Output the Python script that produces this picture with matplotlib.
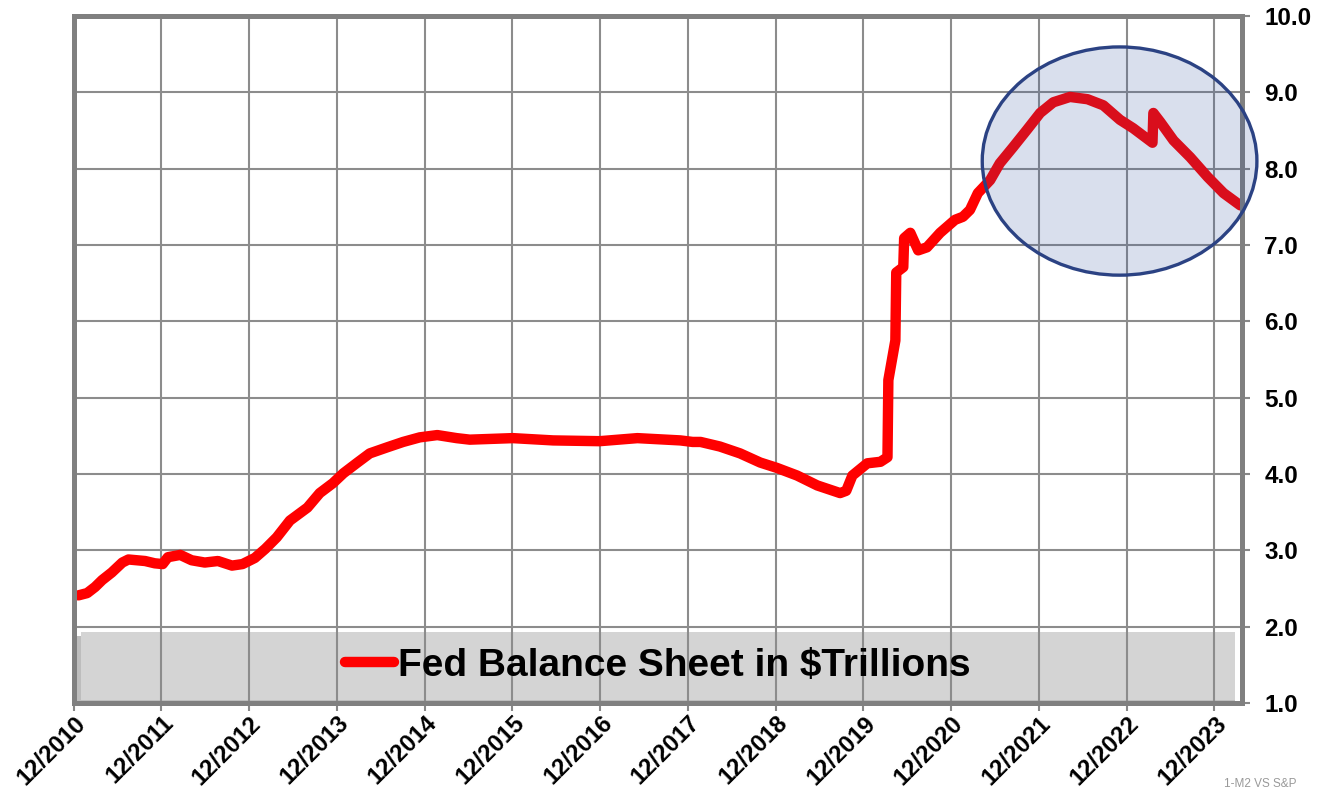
import matplotlib
matplotlib.use("Agg")
import matplotlib.pyplot as plt
import matplotlib.transforms as mtransforms
from matplotlib.patches import Ellipse, Rectangle

plt.rcParams['font.family'] = ['Liberation Sans', 'DejaVu Sans']

# Fed balance sheet, $ trillions, x in decimal years
years = [2010.97, 2011.07, 2011.16, 2011.24, 2011.35, 2011.47, 2011.54, 2011.73,
         2011.84, 2011.93, 2011.99, 2012.13, 2012.26, 2012.41, 2012.56, 2012.72,
         2012.84, 2012.98, 2013.10, 2013.23, 2013.38, 2013.58, 2013.72, 2013.87,
         2013.99, 2014.15, 2014.29, 2014.49, 2014.67, 2014.86, 2015.06, 2015.28,
         2015.43, 2015.92, 2016.38, 2016.91, 2017.34, 2017.83, 2017.97, 2018.06,
         2018.28, 2018.51, 2018.74, 2018.93, 2019.16, 2019.39, 2019.65, 2019.72,
         2019.79, 2019.96, 2020.11, 2020.19, 2020.20, 2020.28, 2020.29, 2020.37,
         2020.38, 2020.45, 2020.54, 2020.64, 2020.79, 2020.96, 2021.05, 2021.13,
         2021.22, 2021.36, 2021.47, 2021.62, 2021.78, 2021.93, 2022.08, 2022.27,
         2022.47, 2022.65, 2022.84, 2022.99, 2023.21, 2023.22, 2023.30, 2023.45,
         2023.64, 2023.84, 2024.02, 2024.21]
balance = [2.41, 2.44, 2.52, 2.61, 2.71, 2.84, 2.88, 2.86,
           2.83, 2.82, 2.91, 2.94, 2.87, 2.84, 2.86, 2.80,
           2.82, 2.90, 3.02, 3.17, 3.39, 3.56, 3.75, 3.88,
           4.01, 4.15, 4.27, 4.35, 4.42, 4.48, 4.51, 4.47,
           4.45, 4.47, 4.44, 4.43, 4.47, 4.44, 4.42, 4.42,
           4.36, 4.27, 4.15, 4.08, 3.98, 3.85, 3.75, 3.78,
           3.98, 4.14, 4.16, 4.22, 5.23, 5.75, 6.64, 6.71,
           7.09, 7.16, 6.93, 6.97, 7.16, 7.33, 7.37, 7.46,
           7.68, 7.85, 8.07, 8.28, 8.51, 8.73, 8.87, 8.94,
           8.91, 8.83, 8.64, 8.53, 8.34, 8.73, 8.61, 8.37,
           8.15, 7.89, 7.68, 7.52]

tick_years = list(range(2010, 2024))
tick_labels = ['12/%d' % y for y in tick_years]
y_ticks = [1, 2, 3, 4, 5, 6, 7, 8, 9, 10]

fig = plt.figure(figsize=(13.24, 7.93), dpi=100)
ax = fig.add_axes([0.0557, 0.1135, 0.8824, 0.8663])

x0 = 2010 + 11 / 12
xticks = [x0 + i for i in range(len(tick_years))]
ax.set_xlim(x0, x0 + 13.314)
ax.set_ylim(1, 10)

# legend band
shadow = Rectangle((0.003, 0.0), 0.991, 0.098, transform=ax.transAxes,
                   facecolor='#bdbdbd', edgecolor='none', zorder=0.1)
band = Rectangle((0.006, 0.005), 0.988, 0.098, transform=ax.transAxes,
                 facecolor='#d4d4d4', edgecolor='none', zorder=0.2)
ax.add_patch(shadow)
ax.add_patch(band)

# grid on top of the band, under the line
ax.vlines(xticks, 1, 10, colors='#8c8c8c', lw=1.5, zorder=2.1)
ax.hlines(y_ticks, x0, x0 + 13.314, colors='#8c8c8c', lw=1.5, zorder=2.1)

line, = ax.plot(years, balance, color='#ff0000', lw=7.5,
                solid_joinstyle='round', solid_capstyle='round', zorder=2.2,
                label='Fed Balance Sheet in $Trillions')

ell = Ellipse((2022.835, 8.1), 3.13, 2.99, facecolor=(0.18, 0.31, 0.62, 0.18),
              edgecolor='#2b4283', lw=2.4, zorder=3, clip_on=False)
ax.add_patch(ell)

# x labels as plain texts under each tick
ax.set_xticks(xticks)
ax.set_xticklabels([])
trans = mtransforms.blended_transform_factory(ax.transData, ax.transAxes)
trans = trans + mtransforms.ScaledTranslation(6 / 72, -12 / 72, fig.dpi_scale_trans)
for xv, lab in zip(xticks, tick_labels):
    ax.text(xv, 0, lab, transform=trans, rotation=45, ha='right', va='center',
            rotation_mode='anchor', fontsize=17.2, fontweight='bold', clip_on=False)

ax.yaxis.tick_right()
ax.set_yticks(y_ticks)
ax.set_yticklabels(['%.1f' % v for v in y_ticks], fontsize=17.5, fontweight='bold')
ax.tick_params(axis='both', colors='#888888', length=6, width=1.5, labelcolor='black')
ax.tick_params(axis='y', pad=10)

for s in ax.spines.values():
    s.set_color('#808080')
    s.set_linewidth(3.6)

leg = ax.legend(handles=[line], loc='center', bbox_to_anchor=(0.5, 0.054),
                frameon=False, handlelength=1.25, handletextpad=0.1,
                prop={'size': 28, 'weight': 'bold'})

fig.text(0.979, 0.008, '1-M2 VS S&P', fontsize=8.5, color='#999999', ha='right')

fig.savefig('out.png', dpi=100)
